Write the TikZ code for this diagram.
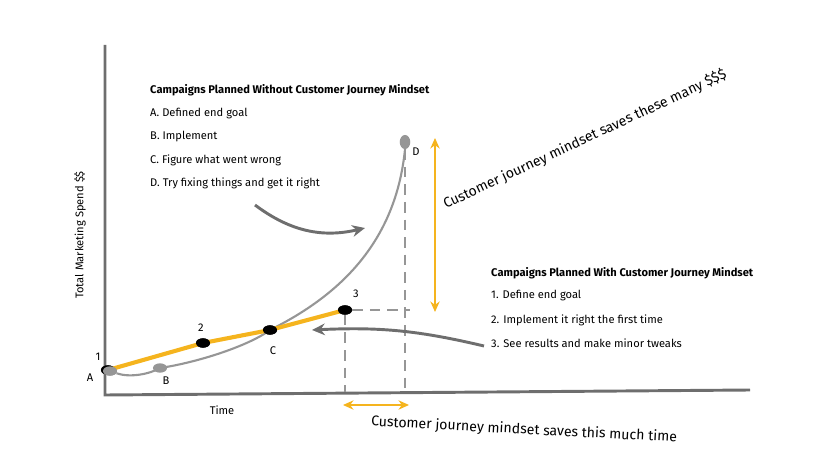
\documentclass[tikz,border=0pt]{standalone}
\usepackage{fontspec}
\setmainfont{Fira Sans}
\usetikzlibrary{arrows.meta,positioning,shapes.geometric}
\definecolor{curvegray}{RGB}{150,150,150}
\definecolor{axisgray}{RGB}{110,110,110}
\definecolor{gold}{RGB}{245,180,30}
\begin{document}
\begin{tikzpicture}[x=0.03cm,y=-0.03cm,
  txt/.style={anchor=west,font=\fontsize{9.5}{11}\selectfont,inner sep=0pt},
  ttl/.style={txt,font=\fontsize{9.5}{11}\selectfont\bfseries},
  blk/.style={ellipse,fill=black,minimum width=12pt,minimum height=8pt,inner sep=0pt},
  gry/.style={blk,fill=curvegray},
  guide/.style={dashed,dash pattern=on 9pt off 6pt,curvegray,line width=1.3pt},
  gold arrow/.style={gold,line width=2.2pt,{Stealth[length=9pt,width=8pt]}-{Stealth[length=9pt,width=8pt]}},
  bend arrow/.style={axisgray,line width=2.5pt,-{Stealth[length=11pt,width=10pt]}}]
\useasboundingbox (0,0) rectangle (838,454);

% axes
\coordinate (o) at (105,395);
\draw[axisgray,line width=2.5pt] (105,45) -- (o) -- (750,390);
\node[txt,rotate=90,anchor=center] (ylab) at (80,235) {Total Marketing Spend \$\$};
\node[txt,anchor=center] (xlab) at (222,410) {Time};

% points
\node[gry] (A) at (110,371) {};
\node[gry] (B) at (160,368) {};
\node[gry,minimum width=9pt,minimum height=12pt] (D) at (405,142) {};
\node[blk] (p1) at (108,370) {};
\node[blk] (p2) at (203,343) {};
\node[blk] (C) at (270,330) {};
\node[blk] (p3) at (345,310) {};

% curves
\draw[curvegray,line width=1.8pt] (A) .. controls (130,378) and (150,374) .. (B.center)
  .. controls (200,362) and (250,345) .. (C.center)
  .. controls (330,300) and (395,250) .. (D.south);
\draw[gold,line width=3.5pt] (p1.center) -- (p2.center) -- (C.center) -- (p3.center);
\foreach \n in {p1,p2,C,p3} \node[blk] at (\n) {};
\node[gry] at (A) {};

% labels on points
\node[txt,anchor=center] at (98,357) {1};
\node[txt,anchor=center] at (90,378) {A};
\node[txt,anchor=center] at (201,328) {2};
\node[txt,anchor=center] at (166,381) {B};
\node[txt,anchor=center] at (273,351) {C};
\node[txt,anchor=center] at (356,294) {3};
\node[txt,anchor=center] at (416,152) {D};

% guides
\draw[guide] (D.south) -- (405,395);
\draw[guide] (p3.south) -- (345,392);
\draw[guide] (p3.east) -- (410,310);
\draw[gold arrow] (435,138) -- (435,312);
\draw[gold arrow] (343,405) -- (409,405);
\node[txt,rotate=25] (save1) at (444,205) {\fontsize{12}{13}\selectfont Customer journey mindset saves these many \$\$\$};
\node[txt,rotate=-3] (save2) at (371,422) {\fontsize{12}{13}\selectfont Customer journey mindset saves this much time};

% without text
\node[ttl] (t1) at (150,90) {Campaigns Planned Without Customer Journey Mindset};
\node[txt] (a) at (150,114) {A. Defined end goal};
\node[txt] (b) at (150,137) {B. Implement};
\node[txt] (c) at (150,160) {C. Figure what went wrong};
\node[txt] (d) at (150,183) {D. Try fixing things and get it right};
\draw[bend arrow] (255,205) to[bend right=25] (365,228);

% with text
\node[ttl] (t2) at (491,273) {Campaigns Planned With Customer Journey Mindset};
\node[txt] (s1) at (491,296) {1. Define end goal};
\node[txt] (s2) at (491,320) {2. Implement it right the first time};
\node[txt] (s3) at (491,343) {3. See results and make minor tweaks};
\draw[bend arrow] (484,346) to[bend right=8] (312,330);
\end{tikzpicture}
\end{document}
